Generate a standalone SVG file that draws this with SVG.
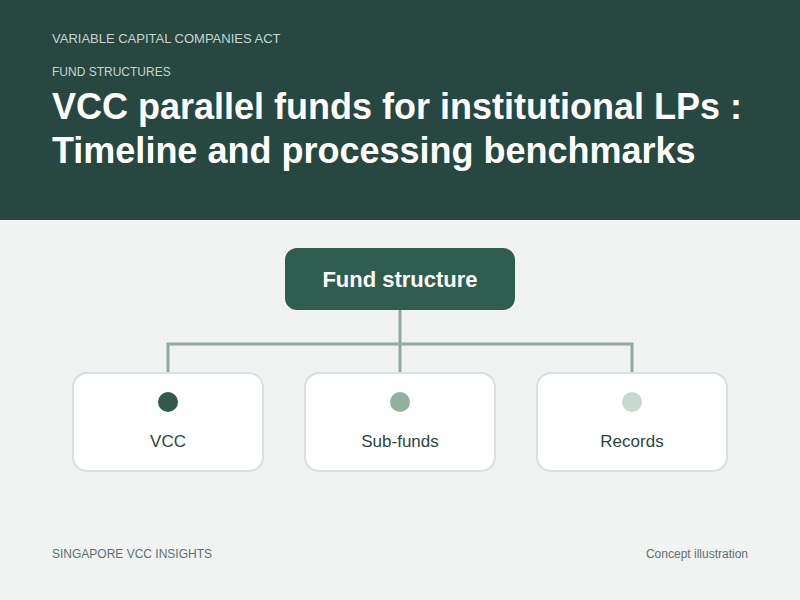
<svg xmlns="http://www.w3.org/2000/svg" width="800" height="600" viewBox="0 0 800 600">
<style>
text{font-family:"Liberation Sans",Arial,sans-serif}
.kicker{fill:#c5d6cf;font-size:13px}
.title{fill:#ffffff;font-size:36px;font-weight:bold}
.card{fill:#ffffff;stroke:#d6e0dc;stroke-width:2}
.lbl{fill:#2c463f;font-size:17px;text-anchor:middle}
.conn{fill:none;stroke:#8faa9e;stroke-width:3}
.foot{fill:#5f716b;font-size:12px}
</style>
<rect x="0" y="0" width="800" height="600" fill="#f0f3f2"/>
<rect x="0" y="0" width="800" height="220" fill="#264840"/>
<text class="kicker" x="52" y="43">VARIABLE CAPITAL COMPANIES ACT</text>
<text class="kicker" x="52" y="76" style="font-size:12px">FUND STRUCTURES</text>
<text class="title" x="52" y="119">VCC parallel funds for institutional LPs :</text>
<text class="title" x="52" y="163">Timeline and processing benchmarks</text>
<g id="connectors">
<path class="conn" d="M400 310 V344 M168 372 V344 H632 V372 M400 344 V372"/>
</g>
<g id="root">
<rect x="285" y="248" width="230" height="62" rx="12" fill="#2f5e50"/>
<text x="400" y="287" fill="#ffffff" font-size="22" font-weight="bold" text-anchor="middle">Fund structure</text>
</g>
<g id="vcc">
<rect class="card" x="73" y="373" width="190" height="98" rx="14"/>
<circle cx="168" cy="402" r="10" fill="#2f5a4c"/>
<text class="lbl" x="168" y="447">VCC</text>
</g>
<g id="subfunds">
<rect class="card" x="305" y="373" width="190" height="98" rx="14"/>
<circle cx="400" cy="402" r="10" fill="#93b0a0"/>
<text class="lbl" x="400" y="447">Sub-funds</text>
</g>
<g id="records">
<rect class="card" x="537" y="373" width="190" height="98" rx="14"/>
<circle cx="632" cy="402" r="10" fill="#c8d9cf"/>
<text class="lbl" x="632" y="447">Records</text>
</g>
<text class="foot" x="52" y="558">SINGAPORE VCC INSIGHTS</text>
<text class="foot" x="748" y="558" text-anchor="end">Concept illustration</text>
</svg>
